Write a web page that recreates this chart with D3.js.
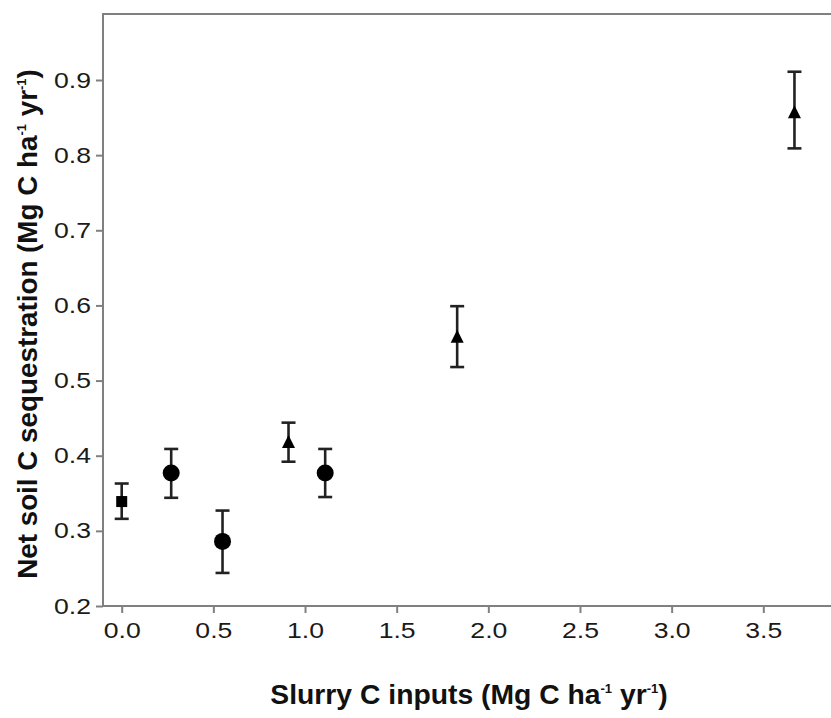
<!DOCTYPE html>
<html><head><meta charset="utf-8">
<script src="https://cdn.jsdelivr.net/npm/d3@7"></script>
<style>html,body{margin:0;padding:0;background:#fff;}svg{display:block;}</style>
</head><body>
<svg id="chart" width="831" height="718"></svg>
<script>
const xValues = [0.0, 0.27, 0.55, 0.91, 1.11, 1.83, 3.67];
const yMeans  = [0.339, 0.377, 0.286, 0.418, 0.377, 0.558, 0.857];
const yLower  = [0.316, 0.344, 0.244, 0.392, 0.345, 0.518, 0.809];
const yUpper  = [0.363, 0.409, 0.327, 0.444, 0.409, 0.599, 0.911];
const shapes  = ["square", "circle", "circle", "triangle", "circle", "triangle", "triangle"];
const xTicks = [0, 0.5, 1.0, 1.5, 2.0, 2.5, 3.0, 3.5];
const yTicks = [0.2, 0.3, 0.4, 0.5, 0.6, 0.7, 0.8, 0.9];

const svg = d3.select("#chart");
const x = d3.scaleLinear().domain([0, 3.5]).range([121.7, 763.3]);
const y = d3.scaleLinear().domain([0.2, 0.9]).range([606, 80]);
const pLeft = 103, pTop = 14, pRight = 840, pBottom = 606;
const frameColor = "#808080";
const font = "Liberation Sans, Arial, Helvetica, sans-serif";

// frame
svg.append("rect").attr("x", pLeft).attr("y", pTop).attr("width", pRight - pLeft).attr("height", pBottom - pTop)
  .attr("fill", "none").attr("stroke", frameColor).attr("stroke-width", 2);

// y axis
const yAxis = d3.axisLeft(y).tickValues(yTicks).tickFormat(d3.format(".1f")).tickSize(7).tickPadding(5);
const gy = svg.append("g").attr("transform", `translate(${pLeft},0)`).call(yAxis);
gy.select(".domain").remove();
gy.selectAll(".tick line").attr("stroke", frameColor).attr("stroke-width", 2);
gy.selectAll(".tick text").attr("font-family", font).attr("font-size", 22)
  .attr("fill", "#1a1a1a").attr("textLength", 37).attr("lengthAdjust", "spacingAndGlyphs");

// x axis
const xAxis = d3.axisBottom(x).tickValues(xTicks).tickFormat(d3.format(".1f")).tickSize(7).tickPadding(9);
const gx = svg.append("g").attr("transform", `translate(0,${pBottom})`).call(xAxis);
gx.select(".domain").remove();
gx.selectAll(".tick line").attr("stroke", frameColor).attr("stroke-width", 2);
gx.selectAll(".tick text").attr("font-family", font).attr("font-size", 22)
  .attr("fill", "#1a1a1a").attr("textLength", 37).attr("lengthAdjust", "spacingAndGlyphs");

// error bars
const data = xValues.map((v, i) => ({x: v, y: yMeans[i], lo: yLower[i], hi: yUpper[i], s: shapes[i]}));
const cap = 7;
const eb = svg.append("g").attr("stroke", "#222").attr("stroke-width", 2.6).attr("fill", "none");
data.forEach(d => {
  eb.append("line").attr("x1", x(d.x)).attr("x2", x(d.x)).attr("y1", y(d.lo)).attr("y2", y(d.hi));
  eb.append("line").attr("x1", x(d.x) - cap).attr("x2", x(d.x) + cap).attr("y1", y(d.lo)).attr("y2", y(d.lo));
  eb.append("line").attr("x1", x(d.x) - cap).attr("x2", x(d.x) + cap).attr("y1", y(d.hi)).attr("y2", y(d.hi));
});

// markers
const mk = svg.append("g").attr("fill", "#000");
data.forEach(d => {
  const cx = x(d.x), cy = y(d.y);
  if (d.s === "circle") {
    mk.append("circle").attr("cx", cx).attr("cy", cy).attr("r", 8.5);
  } else if (d.s === "square") {
    mk.append("rect").attr("x", cx - 5.5).attr("y", cy - 5.5).attr("width", 11).attr("height", 11);
  } else {
    const p = d3.path();
    const h = 13, w = 13;
    p.moveTo(cx, cy - h * 0.55);
    p.lineTo(cx + w / 2, cy + h * 0.45);
    p.lineTo(cx - w / 2, cy + h * 0.45);
    p.closePath();
    mk.append("path").attr("d", p.toString());
  }
});

// axis titles
function addTitle(g, base) {
  g.append("tspan").text(base);
  g.append("tspan").text("ha");
  g.append("tspan").attr("font-size", 13).attr("dy", -11).text("-1");
  g.append("tspan").attr("dy", 11).text(" yr");
  g.append("tspan").attr("font-size", 13).attr("dy", -11).text("-1");
  g.append("tspan").attr("dy", 11).text(")");
}
const xt = svg.append("text").attr("x", 469).attr("y", 704).attr("text-anchor", "middle")
  .attr("font-family", font).attr("font-weight", "bold").attr("font-size", 28.3)
  .attr("fill", "#111");
addTitle(xt, "Slurry C inputs (Mg C ");

const yt = svg.append("text").attr("transform", "translate(37,324) rotate(-90)").attr("text-anchor", "middle")
  .attr("font-family", font).attr("font-weight", "bold").attr("font-size", 27.8)
  .attr("fill", "#111");
addTitle(yt, "Net soil C sequestration (Mg C ");
</script>
</body></html>
